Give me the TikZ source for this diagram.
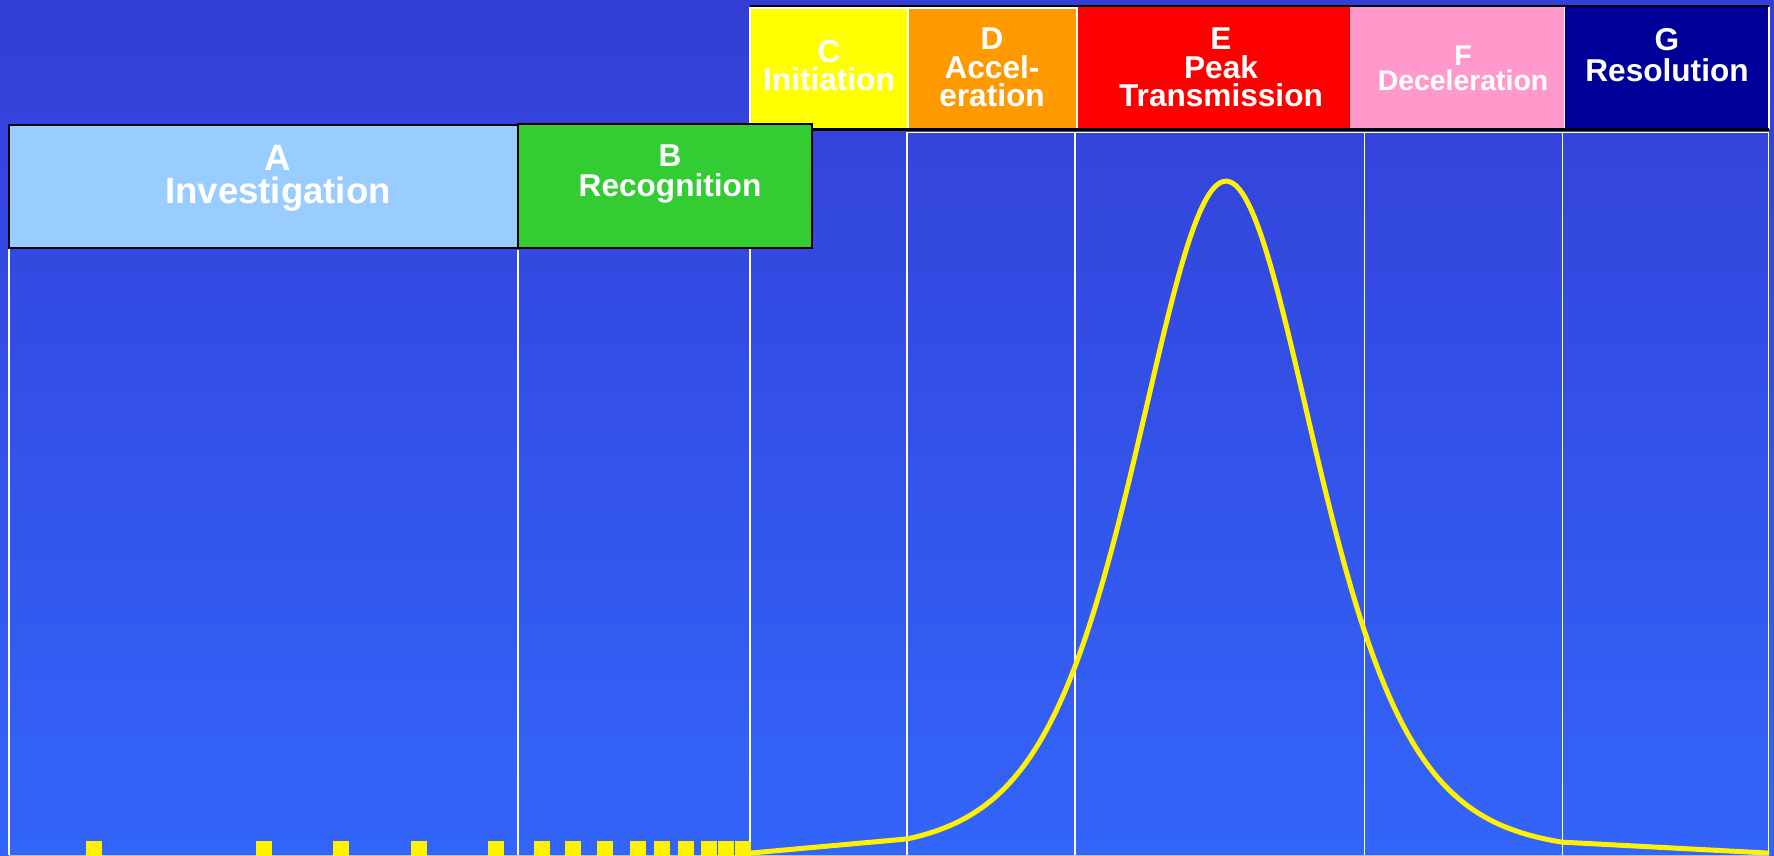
\documentclass[tikz,border=0pt]{standalone}
\usepackage{fontspec}
\setmainfont{Liberation Sans}
\definecolor{bgtop}{RGB}{51,62,214}
\definecolor{bgbot}{RGB}{51,101,250}
\definecolor{cA}{RGB}{153,204,255}
\definecolor{cB}{RGB}{51,204,51}
\definecolor{cC}{RGB}{255,255,0}
\definecolor{cD}{RGB}{255,153,0}
\definecolor{cE}{RGB}{255,0,0}
\definecolor{cF}{RGB}{255,153,204}
\definecolor{cG}{RGB}{0,0,153}
\tikzset{
  lbl/.style={text=white, font=\bfseries\fontsize{15.8}{16}\selectfont, anchor=base, inner sep=0pt},
  lblA/.style={lbl, font=\bfseries\fontsize{18.3}{18}\selectfont},
  lblF/.style={lbl, font=\bfseries\fontsize{14.2}{14}\selectfont},
  gridline/.style={white, line width=0.7pt},
  frameline/.style={black, line width=1.1pt},
  sep/.style={white, line width=0.8pt},
  curve/.style={yellow, line width=2.5pt, line join=round, line cap=round},
  mark box/.style={fill=yellow}
}
\begin{document}
\begin{tikzpicture}[x=0.5pt, y=-0.5pt]
\useasboundingbox (0,0) rectangle (1774,856);
% background
\shade[top color=bgtop, bottom color=bgbot] (0,0) rectangle (1774,856);
% vertical grid lines
\foreach \xx/\yy in {9/248, 518/250, 750/130, 907/132, 1075/132, 1364.5/132, 1562.5/132, 1768.5/132}
  \draw[gridline] (\xx,\yy) -- (\xx,855);
\draw[gridline] (907,132.5) -- (1769,132.5);
\draw[white, opacity=0.6, line width=0.7pt] (9,855.3) -- (1769,855.3);
% top row boxes
\fill[cC] (750,7) rectangle (907,129);
\fill[cD] (907,7) rectangle (1076,131);
\fill[cE] (1076,7) rectangle (1350,129);
\fill[cF] (1350,7) rectangle (1564,131);
\fill[cG] (1565,7) rectangle (1768,129);
\foreach \xx in {750, 908, 1077, 1564.5, 1769}
  \draw[sep] (\xx,7) -- (\xx,129);
\draw[sep] (750,7.8) -- (1076,7.8);
\draw[frameline] (750,6.3) -- (1769,6.3);
\draw[frameline] (750,129.5) -- (1769,129.5);
% A and B boxes
\filldraw[fill=cA, draw=black, line width=1pt] (9,125) rectangle (518,248);
\filldraw[fill=cB, draw=black, line width=1pt] (518,124) rectangle (812,248);
% labels
\node[lblA] (lA1) at (278,170) {A};
\node[lblA] (lA2) at (278,204) {Investigation};
\node[lbl] (lB1) at (670,166.7) {B};
\node[lbl] (lB2) at (670,196.7) {Recognition};
\node[lbl] (lC1) at (829,62.7) {C};
\node[lbl] (lC2) at (829,90.7) {Initiation};
\node[lbl] (lD1) at (992,50) {D};
\node[lbl] (lD2) at (992,79) {Accel-};
\node[lbl] (lD3) at (992,107) {eration};
\node[lbl] (lE1) at (1221,50) {E};
\node[lbl] (lE2) at (1221,79) {Peak};
\node[lbl] (lE3) at (1221,107) {Transmission};
\node[lblF] (lF1) at (1463,65.7) {F};
\node[lblF] (lF2) at (1463,91) {Deceleration};
\node[lbl] (lG1) at (1667,51) {G};
\node[lbl] (lG2) at (1667,81.7) {Resolution};
% case marks
\foreach \xx in {86, 256, 333, 411, 488, 534, 565, 597, 630, 654, 678, 701, 718, 735}
  \fill[mark box] (\xx,841) rectangle ++(16,14.5);
% epidemic curve
\draw[curve] (751,853) -- (907,{852-671/(cosh((907-1226)/120))^2})
  plot[domain=907:1562, samples=220] (\x,{852-671/(cosh((\x-1226)/120))^2})
  -- (1767,853);
\end{tikzpicture}
\end{document}
